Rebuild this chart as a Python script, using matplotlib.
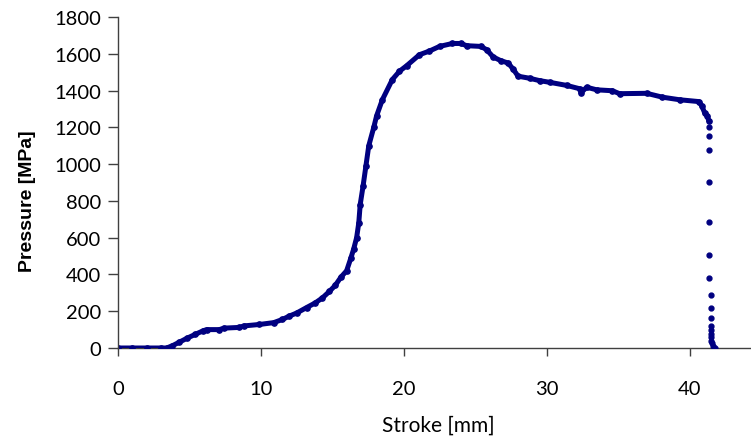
import numpy as np
import matplotlib
matplotlib.use("Agg")
import matplotlib.pyplot as plt

# stroke [mm] / pressure [MPa] (dense part of the record)
stroke = [0, 1, 2, 3, 3.4, 3.8, 4.3, 4.8, 5.4, 5.97, 6.2, 7.1, 7.4, 8.5, 8.8,
          9.9, 10.9, 11.5, 12.0, 12.5, 13.2, 13.8, 14.3, 14.8, 15.2, 15.6,
          16.0, 16.3, 16.5, 16.7, 16.85, 16.95, 17.15, 17.35, 17.55, 17.9,
          18.1, 18.5, 19.2, 19.7, 20.2, 21.1, 21.8, 22.5, 23.4, 24.0, 24.4,
          25.4, 25.8, 26.25, 26.8, 27.3, 27.65, 28.0, 28.8, 29.5, 30.2, 31.4,
          32.3, 32.4, 32.8, 33.5, 34.6, 35.1, 37.0, 38.1, 39.3, 40.65, 40.85,
          41.05, 41.24, 41.35]
pressure = [0, 0, 0, 0, 0, 12, 32, 52, 74, 94, 100, 100, 108, 112, 120,
            128, 138, 155, 174, 190, 220, 245, 272, 308, 340, 385,
            420, 490, 540, 600, 680, 780, 880, 990, 1100, 1200,
            1263, 1350, 1460, 1505, 1535, 1595, 1615, 1640, 1656, 1656, 1644,
            1640, 1622, 1583, 1562, 1550, 1517, 1478, 1467, 1454, 1445, 1428,
            1410, 1388, 1418, 1404, 1399, 1383, 1385, 1364, 1350, 1340, 1318,
            1280, 1262, 1236]

# last points, where the load falls off
tail_stroke = [41.35, 41.35, 41.35, 41.35, 41.35, 41.35, 41.35, 41.5, 41.5,
               41.5, 41.5, 41.5, 41.5, 41.5, 41.5, 41.55, 41.65, 41.8]
tail_pressure = [1204, 1154, 1077, 904, 687, 506, 379, 288, 218,
                 163, 118, 100, 76, 58, 40, 27, 12, 2]

x_ticks = [0, 10, 20, 30, 40]
y_ticks = list(range(0, 1801, 200))

col = '#000080'

fig = plt.figure(figsize=(7.51, 4.39), dpi=100, facecolor='white')
ax = fig.add_axes([118/751, 90/439, 633/751, 331/439])

ax.plot(stroke, pressure, color=col, lw=3.6, marker='o', ms=3.8,
        solid_capstyle='round', solid_joinstyle='round')
ax.plot(tail_stroke, tail_pressure, color=col, ls='none', marker='o', ms=3.5)

ax.set_xlim(0, 44.3)
ax.set_ylim(0, 1800)
ax.set_xticks(x_ticks)
ax.set_yticks(y_ticks)

for s in ['top', 'right']:
    ax.spines[s].set_visible(False)
for s in ['left', 'bottom']:
    ax.spines[s].set_color('#404040')
    ax.spines[s].set_linewidth(1)
ax.spines['bottom'].set_zorder(0)

ax.tick_params(axis='y', direction='out', length=7, width=1, color='#404040',
               pad=5, labelsize=14.5, labelcolor='#000000')
ax.tick_params(axis='x', direction='out', length=6, width=1, color='#404040',
               pad=17, labelsize=14.5, labelcolor='#000000')
for lab in ax.get_xticklabels() + ax.get_yticklabels():
    lab.set_family('Lato')

fig.text(27/751, 1 - 201/439, 'Pressure [MPa]', rotation=90, ha='center',
         va='center', fontsize=14, fontweight='bold', family='Liberation Sans')
fig.text(438/751, 1 - 426/439, 'Stroke [mm]', ha='center', va='center',
         fontsize=15, family='Lato')

fig.savefig('out.png', dpi=100)
